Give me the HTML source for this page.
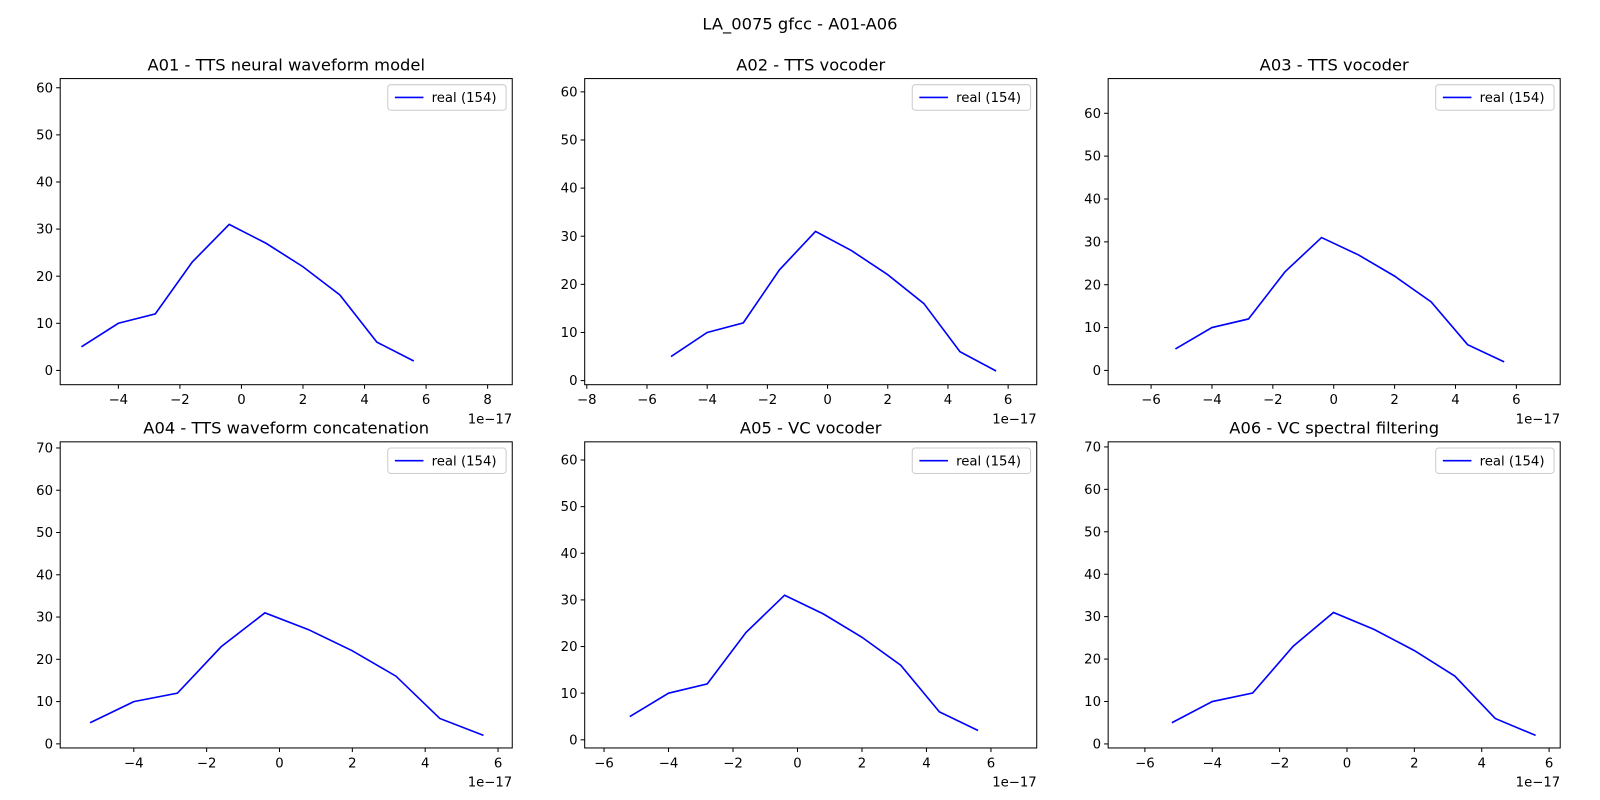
<!DOCTYPE html>
<html><head><meta charset="utf-8"><style>
body{margin:0;background:#fff;}
svg{font-family:"DejaVu Sans","Liberation Sans",sans-serif;display:block;}
</style></head><body>
<svg id="fig" width="1600" height="800" viewBox="0 0 1568 784">
<rect width="1568" height="784" fill="#fff"/>
<text x="784" y="29" text-anchor="middle" font-size="16">LA_0075 gfcc - A01-A06</text>
</svg>
<script>
const xValues=[-5.2,-4.0,-2.8,-1.6,-0.4,0.8,2.0,3.2,4.4,5.6];
const yValues=[5,10,12,23,31,27,22,16,6,2];
const titles=["A01 - TTS neural waveform model","A02 - TTS vocoder","A03 - TTS vocoder","A04 - TTS waveform concatenation","A05 - VC vocoder","A06 - VC spectral filtering"];
const xLims=[[-5.89,8.8],[-8.07,6.95],[-7.41,7.44],[-6.02,6.39],[-6.6,7.42],[-7.09,6.33]];
const yLims=[[-3.03,61.95],[-0.85,62.76],[-3.33,68.1],[-0.97,71.45],[-1.75,63.9],[-0.95,71.2]];
const xTickSets=[[-4,-2,0,2,4,6,8],[-8,-6,-4,-2,0,2,4,6],[-6,-4,-2,0,2,4,6],[-4,-2,0,2,4,6],[-6,-4,-2,0,2,4,6],[-6,-4,-2,0,2,4,6]];
const yTickSets=[[0,10,20,30,40,50,60],[0,10,20,30,40,50,60],[0,10,20,30,40,50,60],[0,10,20,30,40,50,60,70],[0,10,20,30,40,50,60],[0,10,20,30,40,50,60,70]];
const legendLabel="real (154)";
const NS="http://www.w3.org/2000/svg";
const fig=document.getElementById('fig');
function mk(tag,attrs,parent,text){const e=document.createElementNS(NS,tag);for(const k in attrs)e.setAttribute(k,attrs[k]);if(text!==undefined)e.textContent=text;parent.appendChild(e);return e;}
const lefts=[59,573,1086],tops=[77,433],W=443,H=300;
const fmt=v=>v<0?"\u2212"+Math.abs(v):String(v);
for(let i=0;i<6;i++){
  const L=lefts[i%3],T=tops[Math.floor(i/3)];
  const g=mk('g',{},fig);
  
  
  const [x0,x1]=xLims[i],[y0,y1]=yLims[i];
  const sx=v=>L+(v-x0)/(x1-x0)*W, sy=v=>T+H-(v-y0)/(y1-y0)*H;
  const t=mk('text',{x:L+W/2,y:T-8,'text-anchor':'middle','font-size':16},g,titles[i]);
  
  
  xTickSets[i].forEach(v=>{const x=sx(v);mk('line',{x1:x,x2:x,y1:T+H,y2:T+H+4,stroke:'#000'},g);
    const tl=mk('text',{x:x,y:T+H+19,'text-anchor':'middle','font-size':13},g,fmt(v));
    
    });
  yTickSets[i].forEach(v=>{const y=sy(v);mk('line',{x1:L-4,x2:L,y1:y,y2:y,stroke:'#000'},g);
    const tl=mk('text',{x:L-7,y:y+4.5,'text-anchor':'end','font-size':13},g,fmt(v));
    
    });
  const off=mk('text',{x:L+W,y:T+H+38,'text-anchor':'end','font-size':13},g,"1e\u221217");
  
  
  const pts=xValues.map((x,k)=>sx(x).toFixed(1)+','+sy(yValues[k]).toFixed(1)).join(' ');
  const ln=mk('polyline',{points:pts,fill:'none',stroke:'#0000ff','stroke-width':1.6},g);
  
  
  mk('rect',{x:L,y:T,width:W,height:H,fill:'none',stroke:'#000','stroke-width':1},g);
  const lg=mk('g',{},g);
  
  
  mk('rect',{x:L+W-122,y:T+6,width:116,height:25,rx:3,fill:'#fff',stroke:'#ccc'},lg);
  mk('line',{x1:L+W-115,x2:L+W-87,y1:T+18.5,y2:T+18.5,stroke:'#0000ff','stroke-width':1.6},lg);
  mk('text',{x:L+W-79,y:T+23,'font-size':13},lg,legendLabel);
}
</script>
</body></html>
